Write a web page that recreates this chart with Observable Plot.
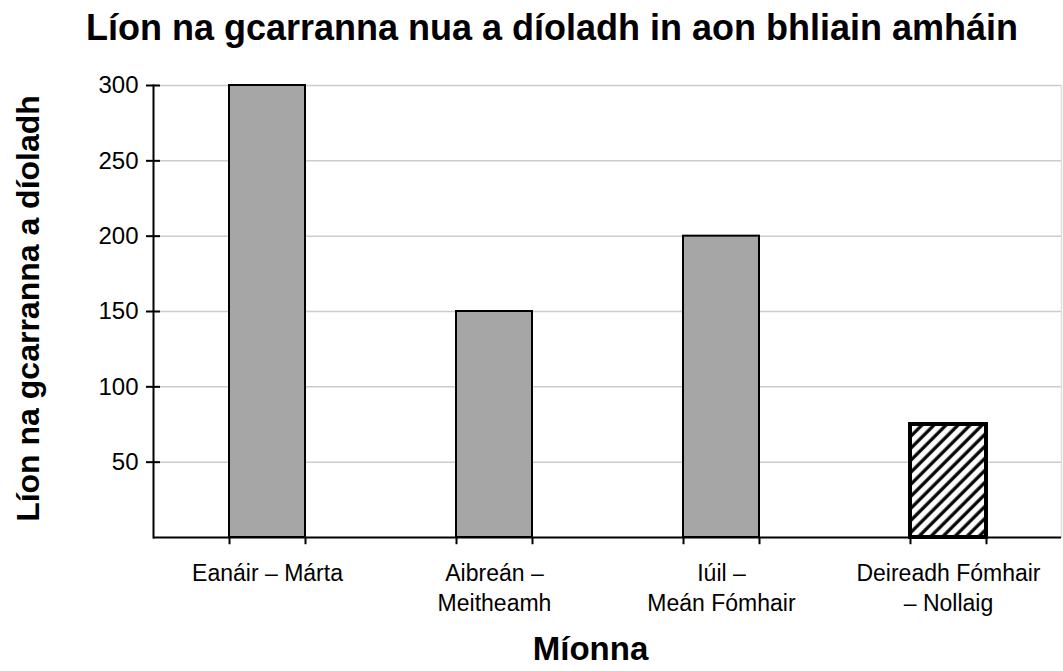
<!DOCTYPE html>
<html>
<head>
<meta charset="utf-8">
<script src="https://cdn.jsdelivr.net/npm/d3@7"></script>
<script src="https://cdn.jsdelivr.net/npm/@observablehq/plot@0.6"></script>
<style>
  html, body { margin: 0; padding: 0; background: #fff; overflow: hidden; }
  #title {
    width: 1063px; height: 70px; padding-top: 10px; padding-left: 41px; box-sizing: border-box;
    font-family: "Liberation Sans", Arial, sans-serif; font-weight: bold;
    font-size: 36px; line-height: 1; text-align: center; color: #000; white-space: nowrap;
  }
  #chart svg { display: block; }
</style>
</head>
<body>
<div id="title">Líon na gcarranna nua a díoladh in aon bhliain amháin</div>
<div id="chart"></div>
<script>
const categories = ["Eanáir – Márta", "Aibreán –\nMeitheamh", "Iúil –\nMeán Fómhair", "Deireadh Fómhair\n– Nollaig"];
const values = [300, 150, 200, 75];
const hatched = [false, false, false, true];
const yTicks = [50, 100, 150, 200, 250, 300];
const yLabel = "Líon na gcarranna a díoladh";
const xLabel = "Míonna";

const data = categories.map((c, i) => ({category: c, value: values[i], hatched: hatched[i]}));

const font = "'Liberation Sans', Arial, sans-serif";

const chart = Plot.plot({
  width: 1063,
  height: 601,
  marginTop: 15,
  marginBottom: 134,
  marginLeft: 153,
  marginRight: 2,
  style: {fontFamily: font, fontSize: "23px", color: "#000", background: "#fff", overflow: "visible"},
  x: {domain: categories, paddingInner: 0.6652, paddingOuter: 0.3326, align: 0.5},
  y: {domain: [0, 300]},
  marks: [
    Plot.gridY(yTicks, {stroke: "#cccccc", strokeOpacity: 1, strokeWidth: 1.5}),
    Plot.frame({anchor: "right", stroke: "#dddddd", strokeWidth: 1.5}),
    Plot.barY(data.filter(d => !d.hatched), {x: "category", y: "value", fill: "#a6a6a6", stroke: "#000", strokeWidth: 2}),
    Plot.barY(data.filter(d => d.hatched), {x: "category", y: "value", fill: "url(#hatch)", stroke: "#000", strokeWidth: 4}),
    Plot.ruleY([0], {stroke: "#000", strokeWidth: 2}),
    Plot.frame({anchor: "left", stroke: "#000", strokeWidth: 2}),
    Plot.ruleX(categories, {x: d => d, dx: -38, y1: 0, y2: -4.8, stroke: "#000", strokeWidth: 2}),
    Plot.ruleX(categories, {x: d => d, dx: 38, y1: 0, y2: -4.8, stroke: "#000", strokeWidth: 2}),
    Plot.axisY(yTicks, {tickSize: 14, dx: 7, tickPadding: 8, fontSize: 24, stroke: "#000", strokeWidth: 2, label: null}),
    Plot.axisX({tickSize: 0, tickPadding: 22, fontSize: 23, lineHeight: 1.3, label: null}),
    Plot.text([xLabel], {frameAnchor: "bottom", dx: -17, dy: 122, fontSize: 33, fontWeight: "bold", fill: "#000"}),
    Plot.text([yLabel], {frameAnchor: "left", textAnchor: "middle", lineAnchor: "middle", rotate: -90, dx: -125, dy: -3, fontSize: 32, fontWeight: "bold", fill: "#000"})
  ]
});

const ns = "http://www.w3.org/2000/svg";
const defs = document.createElementNS(ns, "defs");
defs.innerHTML = `<pattern id="hatch" patternUnits="userSpaceOnUse" width="8.5" height="8.5" patternTransform="rotate(45)">
  <rect width="8.5" height="8.5" fill="#fff"></rect>
  <line x1="2" y1="0" x2="2" y2="8.5" stroke="#000" stroke-width="3.2"></line>
</pattern>`;
chart.insertBefore(defs, chart.firstChild);
document.getElementById("chart").appendChild(chart);
</script>
</body>
</html>
